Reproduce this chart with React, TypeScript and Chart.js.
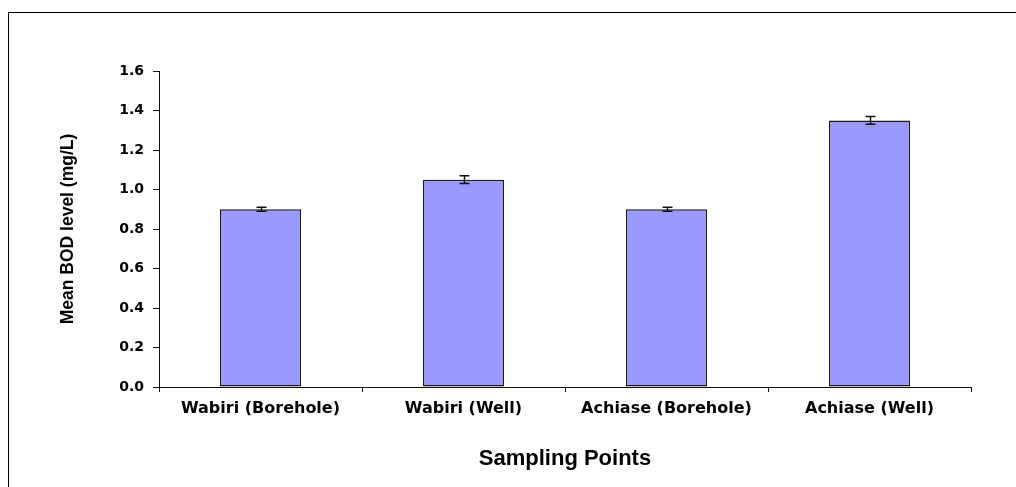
import React, { useEffect, useRef } from "react";
import { Chart, registerables } from "chart.js";

Chart.register(...registerables);

const categories = ["Wabiri (Borehole)", "Wabiri (Well)", "Achiase (Borehole)", "Achiase (Well)"];
const meanBOD = [0.9, 1.05, 0.9, 1.35];
const errorBOD = [0.01, 0.02, 0.01, 0.02];
const yTicks = [0, 0.2, 0.4, 0.6, 0.8, 1.0, 1.2, 1.4, 1.6];

const frameAndErrors = {
  id: "frameAndErrors",
  beforeDraw(chart: any) {
    const ctx = chart.ctx;
    ctx.save();
    ctx.strokeStyle = "#000";
    ctx.lineWidth = 1;
    ctx.strokeRect(8.5, 12.5, 1400, 800);
    ctx.restore();
  },
  afterDatasetsDraw(chart: any) {
    const ctx = chart.ctx;
    const meta = chart.getDatasetMeta(0);
    const y = chart.scales.y;
    ctx.save();
    ctx.strokeStyle = "#111";
    ctx.lineWidth = 1.5;
    meta.data.forEach((bar: any, i: number) => {
      const v = meanBOD[i];
      const e = errorBOD[i];
      const x = Math.round(bar.x) + 0.5;
      const yt = y.getPixelForValue(v + e);
      const yb = y.getPixelForValue(v - e);
      ctx.beginPath();
      ctx.moveTo(x, yt);
      ctx.lineTo(x, yb);
      ctx.moveTo(x - 5, yt);
      ctx.lineTo(x + 5, yt);
      ctx.moveTo(x - 5, yb);
      ctx.lineTo(x + 5, yb);
      ctx.stroke();
    });
    ctx.restore();
  },
};

export default function App() {
  const ref = useRef<HTMLCanvasElement | null>(null);
  useEffect(() => {
    if (!ref.current) return;
    const chart = new Chart(ref.current, {
      type: "bar",
      data: {
        labels: categories,
        datasets: [
          {
            data: meanBOD,
            backgroundColor: "#9999FF",
            borderColor: "#1a1a1a",
            borderWidth: 1.5,
            borderSkipped: false,
            barPercentage: 0.4,
            categoryPercentage: 1,
          },
        ],
      },
      plugins: [frameAndErrors],
      options: {
        animation: false,
        responsive: true,
        maintainAspectRatio: false,
        layout: { padding: { top: 71, right: 45, bottom: 0, left: 0 } },
        plugins: { legend: { display: false }, tooltip: { enabled: false } },
        scales: {
          x: {
            afterFit: (s: any) => {
              s.height = 100;
            },
            grid: {
              drawOnChartArea: false,
              drawTicks: true,
              tickLength: 5,
              tickColor: "#111",
              offset: true,
            },
            border: { display: true, color: "#111", width: 1 },
            ticks: {
              color: "#000",
              padding: 7,
              maxRotation: 0,
              font: { family: "DejaVu Sans", weight: "bold", size: 16 },
            },
            title: {
              display: true,
              text: "Sampling Points",
              color: "#000",
              padding: { top: 0, bottom: 15 },
              font: { family: "Liberation Sans", weight: "bold", size: 22 },
            },
          },
          y: {
            min: 0,
            max: 1.6,
            afterFit: (s: any) => {
              s.width = 159;
            },
            afterBuildTicks: (s: any) => {
              s.ticks = yTicks.map((v) => ({ value: v }));
            },
            grid: {
              drawOnChartArea: false,
              drawTicks: true,
              tickLength: 6,
              tickColor: "#111",
            },
            border: { display: true, color: "#111", width: 1 },
            ticks: {
              color: "#000",
              padding: 9,
              callback: (v: any) => Number(v).toFixed(1),
              font: { family: "DejaVu Sans", weight: "bold", size: 14 },
            },
            title: {
              display: true,
              text: "Mean BOD level (mg/L)",
              color: "#000",
              padding: { top: 58, bottom: 0 },
              font: { family: "Liberation Sans", weight: "bold", size: 17.5 },
            },
          },
        },
      },
    });
    return () => chart.destroy();
  }, []);
  return (
    <div style={{ position: "fixed", left: 0, top: 0, width: "1016px", height: "487px", background: "#fff" }}>
      <canvas ref={ref} />
    </div>
  );
}
